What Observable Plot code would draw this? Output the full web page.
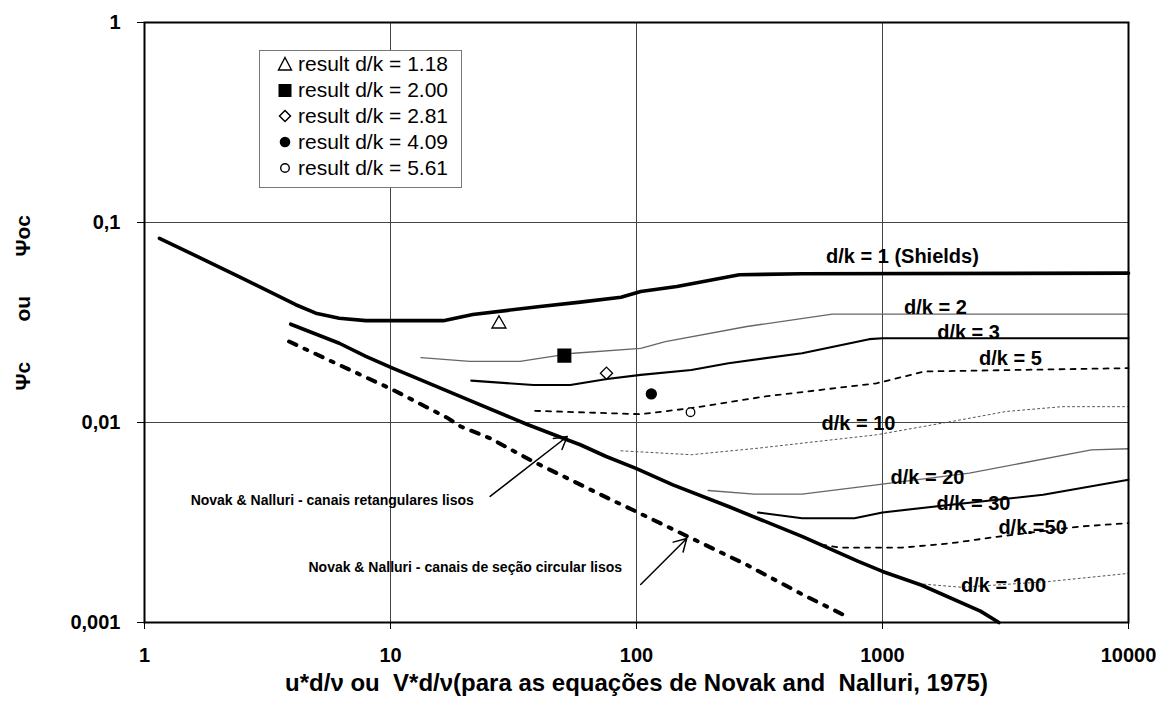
<!DOCTYPE html>
<html>
<head>
<meta charset="utf-8">
<script src="https://cdn.jsdelivr.net/npm/d3@7"></script>
<script src="https://cdn.jsdelivr.net/npm/@observablehq/plot@0.6"></script>
<style>
  html, body { margin: 0; padding: 0; background: #fff; }
  #wrap { position: relative; width: 1171px; height: 708px; }
  #legend {
    position: absolute; left: 259px; top: 50px; width: 201px; height: 136px;
    background: #fff; border: 1.5px solid #777; box-sizing: content-box;
    font-family: 'Liberation Sans', Arial, sans-serif; font-size: 21px; color: #000;
  }
  .row { position: absolute; left: 0; height: 26px; line-height: 26px; white-space: nowrap; }
  .row svg { position: absolute; left: 17px; top: 5px; }
  .row span { position: absolute; left: 38px; top: 0; }
</style>
</head>
<body>
<div id="wrap"><div id="legend"></div></div>
<script>
// ---- axes ----
const xTicks = [1, 10, 100, 1000, 10000];
const xTickLabels = ["1", "10", "100", "1000", "10000"];
const yTicks = [0.001, 0.01, 0.1, 1];
const yTickLabels = ["0,001", "0,01", "0,1", "1"];
const xTitle = "u*d/ν ou  V*d/ν(para as equações de Novak and  Nalluri, 1975)";
const yTitleParts = ["Ψc", "ou", "Ψoc"];

// ---- curves ----
const shieldsX = [1.15, 2.42, 4.12, 4.97, 6.19, 7.94, 16.4, 21.6, 40.6, 59.1, 86.5, 104, 146, 262, 471, 10000];
const shieldsY = [0.0834, 0.0537, 0.0388, 0.0352, 0.0332, 0.0323, 0.0323, 0.0347, 0.038, 0.040, 0.0423, 0.0452, 0.0479, 0.0548, 0.0554, 0.0558];

const dk2X = [13.3, 21, 33.6, 55.5, 104, 131, 281, 625, 10000];
const dk2Y = [0.0211, 0.0202, 0.0202, 0.0222, 0.0235, 0.0254, 0.0302, 0.0348, 0.0348];

const dk3X = [21.3, 38.1, 53.8, 75.9, 104, 167, 236.6, 471, 883, 1000, 10000];
const dk3Y = [0.0162, 0.0154, 0.0154, 0.0165, 0.0173, 0.0183, 0.0198, 0.0222, 0.0261, 0.0264, 0.0264];

const dk5X = [38.7, 104, 167, 334, 945, 1483, 10000];
const dk5Y = [0.01144, 0.011, 0.0118, 0.0135, 0.0157, 0.018, 0.0187];

const dk10X = [86.5, 167, 312, 945, 1896, 3177, 5373, 10000];
const dk10Y = [0.00722, 0.0069, 0.00744, 0.00868, 0.0101, 0.01135, 0.012, 0.012];

const dk20X = [195.5, 301, 471, 945, 2254, 7063, 10000];
const dk20Y = [0.00457, 0.00438, 0.00438, 0.00488, 0.00558, 0.0073, 0.00739];

const dk30X = [312, 471, 769, 1000, 1896, 4498, 10000];
const dk30Y = [0.00355, 0.00332, 0.00332, 0.00355, 0.00388, 0.00435, 0.00517];

const dk50X = [564, 667, 1208, 1896, 2974, 6368, 10000];
const dk50Y = [0.00245, 0.00237, 0.00237, 0.00249, 0.00269, 0.00302, 0.00314];

const dk100X = [1339, 2100, 4670, 10000];
const dk100Y = [0.00157, 0.0015, 0.0016, 0.00176];

const novakRectX = [3.93, 6.19, 7.94, 10.2, 13.5, 20.4, 35.8, 52.2, 59.1, 75.3, 99.5, 140.6, 236.6, 473, 797, 1000, 1436, 2500, 2974];
const novakRectY = [0.031, 0.0249, 0.0214, 0.0187, 0.0162, 0.0131, 0.0098, 0.0082, 0.00774, 0.00676, 0.0059, 0.00488, 0.0038, 0.00269, 0.00202, 0.0018, 0.00154, 0.00114, 0.001];

const novakCircX = [3.87, 6.19, 10.2, 16.9, 19.3, 25.4, 38, 59.1, 74, 99.5, 167, 281, 473, 718];
const novakCircY = [0.0254, 0.0194, 0.0146, 0.0106, 0.00955, 0.00834, 0.00638, 0.00489, 0.00427, 0.00359, 0.00264, 0.00194, 0.00138, 0.00107];

// ---- measured results ----
const resultLabels = ["result d/k = 1.18", "result d/k = 2.00", "result d/k = 2.81", "result d/k = 4.09", "result d/k = 5.61"];
const resultX = [27.6, 50.9, 75.5, 114.9, 165.8];
const resultY = [0.0311, 0.0216, 0.01764, 0.0139, 0.01126];

// ---- curve labels ----
const curveLabels = ["d/k = 1 (Shields)", "d/k = 2", "d/k = 3", "d/k = 5", "d/k = 10", "d/k = 20", "d/k = 30", "d/k.=50", "d/k = 100"];
const curveLabelX = [1205, 1642, 2238, 3311, 799, 1524, 2344, 4074, 3105];
const curveLabelY = [0.0676, 0.0376, 0.028, 0.0209, 0.00989, 0.00531, 0.00394, 0.00299, 0.00153];

// ---- annotations ----
const noteTexts = ["Novak & Nalluri - canais retangulares lisos", "Novak & Nalluri - canais de seção circular lisos"];
const noteX = [1.54, 4.64];
const noteY = [0.00407, 0.00188];
const arrowFromX = [25.4, 104];
const arrowFromY = [0.00427, 0.00155];
const arrowToX = [52.3, 160];
const arrowToY = [0.00851, 0.00263];

// ---- build tables ----
const rows = (xs, ys) => xs.map((x, i) => ({x, y: ys[i]}));
const curves = [
  {data: rows(shieldsX, shieldsY), stroke: "#000", w: 3.6, dash: null},
  {data: rows(dk2X, dk2Y), stroke: "#666", w: 1.3, dash: null},
  {data: rows(dk3X, dk3Y), stroke: "#000", w: 2.1, dash: null},
  {data: rows(dk5X, dk5Y), stroke: "#000", w: 1.8, dash: "5,6"},
  {data: rows(dk10X, dk10Y), stroke: "#555", w: 1, dash: "2,3"},
  {data: rows(dk20X, dk20Y), stroke: "#666", w: 1.3, dash: null},
  {data: rows(dk30X, dk30Y), stroke: "#000", w: 2.1, dash: null},
  {data: rows(dk50X, dk50Y), stroke: "#000", w: 1.8, dash: "5,6"},
  {data: rows(dk100X, dk100Y), stroke: "#555", w: 1, dash: "2,3"},
  {data: rows(novakRectX, novakRectY), stroke: "#000", w: 3.6, dash: null},
  {data: rows(novakCircX, novakCircY), stroke: "#000", w: 4, dash: "8,9,3,9"}
];
const results = resultX.map((x, i) => ({x, y: resultY[i], label: resultLabels[i]}));
const resultSymbol = ["triangle", "square", "diamond2", "circle", "circle"];
const resultFill = ["#fff", "#000", "#fff", "#000", "#fff"];
const resultR = [5.2, 7.2, 5.5, 5, 4.3];
const labels = curveLabels.map((t, i) => ({t, x: curveLabelX[i], y: curveLabelY[i]}));
const notes = noteTexts.map((t, i) => ({t, x: noteX[i], y: noteY[i]}));
const arrows = arrowFromX.map((x1, i) => ({x1, y1: arrowFromY[i], x2: arrowToX[i], y2: arrowToY[i]}));
const yTitleOffsets = [68, -1, -66];

const chart = Plot.plot({
  width: 1171, height: 708,
  marginLeft: 144, marginRight: 43, marginTop: 22, marginBottom: 86,
  x: {type: "log", domain: [1, 10000]},
  y: {type: "log", domain: [0.001, 1]},
  style: {fontFamily: "'Liberation Sans', Arial, sans-serif", fontWeight: "bold", color: "#000", background: "#fff", overflow: "visible"},
  marks: [
    Plot.gridX(xTicks, {stroke: "#444", strokeOpacity: 1, strokeWidth: 1}),
    Plot.gridY(yTicks, {stroke: "#444", strokeOpacity: 1, strokeWidth: 1}),
    ...curves.map(c => Plot.line(c.data, {x: "x", y: "y", stroke: c.stroke, strokeWidth: c.w, strokeDasharray: c.dash, strokeLinejoin: "round"})),
    ...results.map((r, i) => Plot.dot([r], {x: "x", y: "y", symbol: () => resultSymbol[i], r: resultR[i], fill: resultFill[i], stroke: "#000", strokeWidth: 1.3})),
    Plot.text(labels, {x: "x", y: "y", text: "t", fontSize: 20, fontWeight: "bold", fill: "#000", letterSpacing: -0.3}),
    Plot.text(notes, {x: "x", y: "y", text: "t", fontSize: 14, fontWeight: "bold", textAnchor: "start", fill: "#000", letterSpacing: -0.3}),
    Plot.arrow(arrows, {x1: "x1", y1: "y1", x2: "x2", y2: "y2", stroke: "#000", strokeWidth: 1.5, headLength: 14}),
    Plot.frame({stroke: "#000", strokeWidth: 2}),
    Plot.axisX(xTicks, {tickFormat: d => xTickLabels[xTicks.indexOf(d)], tickSize: 7, tickPadding: 18, fontSize: 20, label: null, stroke: "#000"}),
    Plot.axisY(yTicks, {tickFormat: d => yTickLabels[yTicks.indexOf(d)], tickSize: 7, tickPadding: 17, fontSize: 20, label: null, stroke: "#000"}),
    Plot.text([xTitle], {text: d => d, frameAnchor: "bottom", dy: 68, fontSize: 24, fontWeight: "bold", letterSpacing: 0}),
    ...yTitleParts.map((t, i) => Plot.text([t], {text: d => d, frameAnchor: "left", dx: -121, dy: yTitleOffsets[i], rotate: -90, fontSize: 21, fontWeight: "bold", ariaLabel: "y-title-" + i}))
  ]
});
document.getElementById("wrap").prepend(chart);

// smaller subscripts in the Ψ symbols of the y title
[0, 2].forEach(i => {
  const el = chart.querySelector(`g[aria-label="y-title-${i}"] text`);
  if (!el) return;
  const txt = el.textContent;
  el.textContent = "";
  const a = document.createElementNS("http://www.w3.org/2000/svg", "tspan");
  a.textContent = txt.slice(0, 1);
  const b = document.createElementNS("http://www.w3.org/2000/svg", "tspan");
  b.textContent = txt.slice(1);
  b.setAttribute("font-size", "15");
  el.appendChild(a); el.appendChild(b);
});

// legend
const legend = document.getElementById("legend");
const sym = [
  '<polygon points="8,1.5 14.5,14 1.5,14" fill="#fff" stroke="#000" stroke-width="1.4"/>',
  '<rect x="1.5" y="2" width="13" height="13" fill="#000"/>',
  '<polygon points="8,2.5 13.5,8 8,13.5 2.5,8" fill="#fff" stroke="#000" stroke-width="1.5"/>',
  '<circle cx="8" cy="8" r="5.3" fill="#000"/>',
  '<circle cx="8" cy="8" r="4.3" fill="#fff" stroke="#000" stroke-width="1.4"/>'
];
resultLabels.forEach((t, i) => {
  const row = document.createElement("div");
  row.className = "row";
  row.style.top = (i * 26) + "px";
  row.innerHTML = `<svg width="16" height="16">${sym[i]}</svg><span>${t}</span>`;
  legend.appendChild(row);
});
</script>
</body>
</html>
